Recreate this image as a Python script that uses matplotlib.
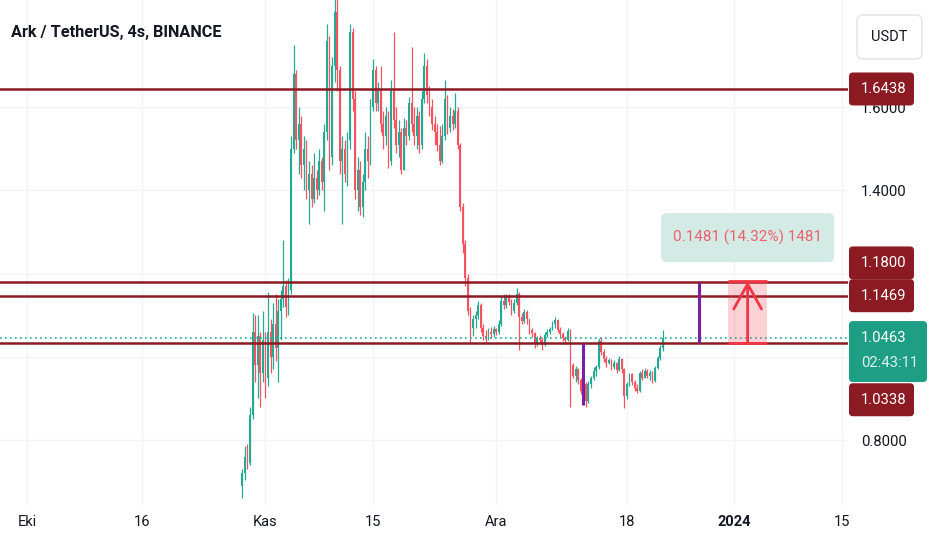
import matplotlib
matplotlib.use('Agg')
import matplotlib.pyplot as plt
import matplotlib.dates as mdates
from matplotlib.patches import Rectangle, FancyBboxPatch
from matplotlib import font_manager
import numpy as np
import pandas as pd

# ARK/USDT, 8 saatlik mumlar (grafikten gozle okundu)
start = '2023-10-29 00:00'
first_open = 0.690
close = [0.720, 0.760, 0.745, 0.860, 1.060, 0.980, 1.050, 0.960, 1.040, 0.950,
         1.060, 1.000, 1.080, 1.020, 1.110, 1.140, 1.170, 1.120, 1.160, 1.500,
         1.680, 1.520, 1.560, 1.460, 1.500, 1.400, 1.440, 1.380, 1.430, 1.400,
         1.470, 1.420, 1.540, 1.760, 1.480, 1.700, 1.830, 1.690, 1.470, 1.500,
         1.440, 1.520, 1.780, 1.620, 1.400, 1.450, 1.360, 1.420, 1.500, 1.470,
         1.600, 1.690, 1.610, 1.640, 1.560, 1.530, 1.580, 1.470, 1.640, 1.570,
         1.510, 1.540, 1.450, 1.550, 1.530, 1.610, 1.560, 1.530, 1.580, 1.510,
         1.620, 1.700, 1.630, 1.600, 1.560, 1.540, 1.510, 1.470, 1.530, 1.620,
         1.550, 1.580, 1.560, 1.590, 1.510, 1.360, 1.270, 1.190, 1.110, 1.070,
         1.090, 1.100, 1.125, 1.070, 1.050, 1.045, 1.060, 1.055, 1.068, 1.060,
         1.080, 1.135, 1.125, 1.145, 1.132, 1.110, 1.130, 1.150, 1.095, 1.085,
         1.108, 1.090, 1.065, 1.058, 1.030, 1.045, 1.040, 1.028, 1.052, 1.060,
         1.068, 1.078, 1.088, 1.065, 1.055, 1.045, 1.040, 1.062, 0.980, 0.955,
         0.970, 0.945, 0.918, 0.935, 0.893, 0.935, 0.948, 0.965, 0.975, 1.038,
         1.012, 0.995, 0.985, 0.993, 0.975, 0.985, 0.968, 0.995, 0.970, 0.905,
         0.935, 0.958, 0.940, 0.925, 0.918, 0.960, 0.950, 0.965, 0.955, 0.962,
         0.942, 0.972, 0.998, 1.020, 1.0463]
high = [0.730, 0.785, 0.790, 0.880, 1.105, 1.100, 1.100, 1.060, 1.110, 1.060,
        1.155, 1.090, 1.130, 1.150, 1.140, 1.160, 1.280, 1.185, 1.190, 1.530,
        1.750, 1.690, 1.600, 1.580, 1.530, 1.520, 1.470, 1.460, 1.490, 1.450,
        1.500, 1.480, 1.560, 1.800, 1.770, 1.720, 1.860, 1.860, 1.700, 1.530,
        1.520, 1.540, 1.800, 1.790, 1.640, 1.480, 1.470, 1.440, 1.540, 1.530,
        1.620, 1.715, 1.700, 1.660, 1.700, 1.590, 1.600, 1.590, 1.665, 1.780,
        1.600, 1.570, 1.550, 1.575, 1.570, 1.625, 1.745, 1.600, 1.600, 1.590,
        1.640, 1.730, 1.715, 1.650, 1.620, 1.580, 1.560, 1.555, 1.560, 1.665,
        1.630, 1.600, 1.595, 1.634, 1.600, 1.515, 1.370, 1.280, 1.200, 1.120,
        1.100, 1.110, 1.135, 1.130, 1.080, 1.065, 1.070, 1.072, 1.075, 1.070,
        1.088, 1.145, 1.150, 1.152, 1.152, 1.140, 1.138, 1.165, 1.155, 1.105,
        1.115, 1.112, 1.090, 1.070, 1.060, 1.050, 1.052, 1.048, 1.060, 1.066,
        1.072, 1.085, 1.095, 1.090, 1.072, 1.060, 1.050, 1.070, 1.068, 0.985,
        0.978, 0.972, 0.948, 0.945, 0.940, 0.942, 0.955, 0.975, 0.980, 1.045,
        1.048, 1.018, 1.002, 0.998, 0.995, 0.992, 0.988, 1.002, 0.998, 0.972,
        0.940, 0.962, 0.960, 0.945, 0.935, 0.966, 0.970, 0.972, 0.970, 0.968,
        0.966, 0.978, 1.002, 1.028, 1.064]
low = [0.660, 0.705, 0.730, 0.740, 0.850, 0.940, 0.900, 0.880, 0.940, 0.900,
       0.930, 0.960, 0.970, 0.990, 0.940, 1.040, 1.120, 1.095, 1.100, 1.150,
       1.490, 1.500, 1.440, 1.430, 1.400, 1.380, 1.320, 1.360, 1.370, 1.380,
       1.390, 1.400, 1.350, 1.520, 1.450, 1.460, 1.660, 1.640, 1.440, 1.320,
       1.420, 1.410, 1.500, 1.590, 1.380, 1.350, 1.340, 1.336, 1.400, 1.430,
       1.460, 1.590, 1.590, 1.590, 1.540, 1.500, 1.510, 1.455, 1.460, 1.550,
       1.490, 1.480, 1.440, 1.450, 1.510, 1.520, 1.540, 1.510, 1.500, 1.490,
       1.500, 1.610, 1.610, 1.580, 1.545, 1.510, 1.495, 1.460, 1.465, 1.520,
       1.535, 1.540, 1.545, 1.550, 1.500, 1.350, 1.250, 1.170, 1.100, 1.036,
       1.050, 1.070, 1.090, 1.060, 1.040, 1.036, 1.040, 1.045, 1.048, 1.052,
       1.055, 1.075, 1.115, 1.118, 1.125, 1.100, 1.105, 1.125, 1.016, 1.078,
       1.082, 1.080, 1.055, 1.048, 1.021, 1.025, 1.033, 1.016, 1.025, 1.048,
       1.055, 1.065, 1.070, 1.060, 1.048, 1.038, 1.032, 1.038, 0.880, 0.948,
       0.940, 0.935, 0.910, 0.905, 0.879, 0.888, 0.925, 0.945, 0.955, 0.970,
       1.005, 0.988, 0.975, 0.982, 0.968, 0.970, 0.962, 0.965, 0.962, 0.877,
       0.898, 0.930, 0.932, 0.918, 0.912, 0.915, 0.945, 0.948, 0.948, 0.945,
       0.938, 0.940, 0.970, 0.992, 1.015]

levels = [1.6438, 1.1800, 1.1469, 1.0338]
last_price = 1.0463
countdown = '02:43:11'
price_ticks = [0.8, 1.0, 1.2, 1.4, 1.6]
price_tick_labels = ['0.8000', '', '', '1.4000', '1.6000']  # 1.0 ve 1.2 etiketlerin altinda kaliyor
date_ticks = ['2023-10-01', '2023-10-16', '2023-11-01', '2023-11-15',
              '2023-12-01', '2023-12-18', '2024-01-01', '2024-01-15']
date_labels = ['Eki', '16', 'Kas', '15', 'Ara', '18', '2024', '15']
# cizim araclari
purple_lines = [('2023-12-12 07:00', 0.885, 1.0338), ('2023-12-27 09:00', 1.0338, 1.1800)]
meas_start, meas_end = '2023-12-31 05:00', '2024-01-05 05:00'
meas_base, meas_delta, meas_pct, meas_ticks = 1.0338, 0.1481, 14.32, 1481

UP, DN = '#22ab94', '#f7525f'
LVL = '#8b1a22'
TXT = '#131722'

try:
    font_manager.findfont(font_manager.FontProperties(family='Liberation Sans Narrow'),
                          fallback_to_default=False)
    FONT, k = 'Liberation Sans Narrow', 1.0
except ValueError:
    FONT, k = 'Roboto', 0.81
plt.rcParams['font.family'] = FONT

W, H = 932, 550
fig = plt.figure(figsize=(W / 100, H / 100), dpi=100)
ax = fig.add_axes([0, 45 / H, 848 / W, 505 / H])
d0 = mdates.date2num(pd.Timestamp('2023-10-01'))
ax.set_xlim(d0 - 3.51, d0 + 106.76)
ax.set_ylim(0.6438, 1.8577)

# mumlar
t = mdates.date2num(pd.date_range(start, periods=len(close), freq='8h'))
c = np.array(close)
o = np.r_[first_open, c[:-1]]
col = np.where(c >= o, UP, DN)
ax.vlines(t, low, high, colors=col, lw=0.9, zorder=2)
ax.bar(t, np.maximum(np.abs(c - o), 0.002), bottom=np.minimum(o, c), width=0.23,
       color=col, linewidth=0, zorder=2)

for lv in levels:
    ax.axhline(lv, color=LVL, lw=1.8, zorder=4)
ax.axhline(last_price, color=UP, lw=1.2, ls=(0, (1, 2)), zorder=4)

for d, y0, y1 in purple_lines:
    ax.vlines(mdates.date2num(pd.Timestamp(d)), y0, y1, color='#7b1fa2', lw=2.2, zorder=5)

m0 = mdates.date2num(pd.Timestamp(meas_start))
m1 = mdates.date2num(pd.Timestamp(meas_end))
top = meas_base + meas_delta
ax.add_patch(Rectangle((m0, meas_base), m1 - m0, meas_delta, facecolor='#f23645',
                       alpha=0.22, lw=0, zorder=5))
ax.hlines([meas_base, top], m0, m1, color='#f23645', lw=2, zorder=6)
ax.annotate('', xy=((m0 + m1) / 2, top), xytext=((m0 + m1) / 2, meas_base),
            arrowprops=dict(arrowstyle='->,head_length=0.9,head_width=0.5', color='#f23645',
                            lw=2, shrinkA=0, shrinkB=0, mutation_scale=20), zorder=6)

# eksenler
ax.set_xticks(mdates.date2num(pd.to_datetime(date_ticks)))
ax.set_xticklabels(date_labels, fontsize=13 * k, color=TXT)
ax.get_xticklabels()[6].set_fontweight('bold')
ax.yaxis.tick_right()
ax.set_yticks(price_ticks)
ax.set_yticklabels(price_tick_labels, fontsize=13.2 * k, color=TXT)
ax.tick_params(axis='x', length=0, pad=7)
ax.tick_params(axis='y', length=0, pad=9.4)
ax.grid(color='#f0f3fa', lw=1, zorder=0)
for s in ax.spines.values():
    s.set_visible(False)

# ust katman: fiyat etiketleri, baslik
ov = fig.add_axes([0, 0, 1, 1])
ov.set_xlim(0, W)
ov.set_ylim(H, 0)
ov.axis('off')


def xpix(x):
    return ax.transData.transform((x, 1.0))[0]


def ypix(p):
    return H - ax.transData.transform((t[0], p))[1]


def price_label(p, color, shift=0, below=None):
    y = ypix(p) + shift
    hgt = 33 if below is None else 61
    wid = 65 if below is None else 78
    ov.add_patch(FancyBboxPatch((849, y - 16.5), wid, hgt, boxstyle='round,pad=0,rounding_size=4',
                                facecolor=color, edgecolor='none', zorder=10))
    ov.text(861, y, '%.4f' % p, color='white', fontsize=13.2 * k, va='center', zorder=11)
    if below:
        ov.text(861, y + 25, below, color='#d8f3ec', fontsize=13.2 * k, va='center', zorder=11)


price_label(levels[0], LVL)
price_label(levels[1], LVL, shift=-19)
price_label(levels[2], LVL)
price_label(last_price, '#1f9e86', below=countdown)
price_label(levels[3], LVL, shift=57)

cx = xpix((m0 + m1) / 2)
yb = ypix(top) - 19
ov.add_patch(FancyBboxPatch((cx - 86.5, yb - 49), 173, 49, boxstyle='round,pad=0,rounding_size=6',
                            facecolor='#d3ebe4', edgecolor='none', zorder=10))
ov.text(cx, yb - 24.5, '%.4f (%.2f%%) %d' % (meas_delta, meas_pct, meas_ticks),
        color='#f05f6d', fontsize=13.6 * k, ha='center', va='center', zorder=11)

ov.add_patch(FancyBboxPatch((857, 15), 65, 44, boxstyle='round,pad=0,rounding_size=6',
                            facecolor='white', edgecolor='#e0e3eb', lw=1, zorder=10))
ov.text(889.5, 37, 'USDT', color=TXT, fontsize=13 * k, ha='center', va='center', zorder=11)

ov.text(11, 33, 'Ark / TetherUS, 4s, BINANCE', color=TXT, fontsize=14.4 * k,
        fontweight='bold', va='center', zorder=11)

fig.savefig('out.png', dpi=100)
